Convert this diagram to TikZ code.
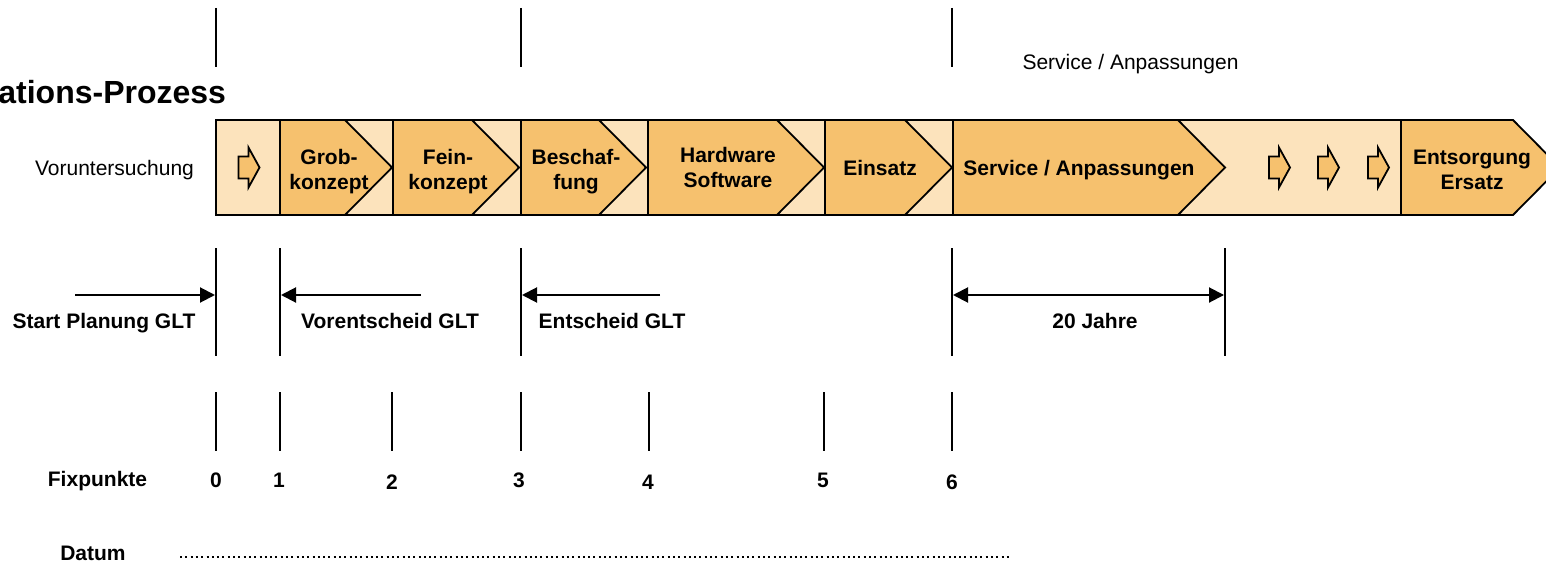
\documentclass[tikz,border=0pt]{standalone}
\usepackage{fontspec}
\setmainfont{Liberation Sans}
\usetikzlibrary{arrows.meta}
\definecolor{bandlight}{HTML}{FCE3BC}
\definecolor{banddark}{HTML}{F6C16E}
\newcommand\mychev[3]{\path[chev] (#1,120) -- (#2,120) -- (#3,167.5) -- (#2,215) -- (#1,215) -- cycle;}
\begin{document}
\begin{tikzpicture}[x=1bp,y=-1bp,
  every node/.style={inner sep=0pt, outer sep=0pt},
  nrm/.style={font=\fontsize{21bp}{25bp}\selectfont},
  bld/.style={font=\bfseries\fontsize{21bp}{25bp}\selectfont},
  two/.style={bld, align=center, anchor=center},
  vline/.style={line width=2bp},
  conn/.style={line width=2bp, -{Triangle[length=15bp,width=15bp]}},
  conntwo/.style={line width=2bp, {Triangle[length=15bp,width=15bp]}-{Triangle[length=15bp,width=15bp]}},
  chev/.style={fill=banddark, draw=black, line width=1.8bp},
  band/.style={fill=bandlight, draw=black, line width=1.8bp},
  smallarrow/.pic={\path[chev] (-10,-11) -- (0,-11) -- (0,-20) -- (11,0) -- (0,20) -- (0,11) -- (-10,11) -- cycle;}
]
\useasboundingbox (0,0) rectangle (1546,563);
\clip (0,0) rectangle (1546,563);

% title and top texts
\node[anchor=base east, font=\bfseries\fontsize{32bp}{37bp}\selectfont] (title) at (226,104) {ations-Prozess};
\node[nrm, anchor=base] (vor) at (114.5,175.5) {Voruntersuchung};
\node[nrm, anchor=base] (svctop) at (1130.5,70) {Service / Anpassungen};

% top vertical lines
\foreach \n/\x in {a/216,b/521,c/952}{
  \coordinate (t\n1) at (\x,8); \coordinate (t\n2) at (\x,67);
  \draw[vline] (t\n1) -- (t\n2);
}

% band
\path[band] (216,120) rectangle (1401,215);
\mychev{280}{345}{392}
\mychev{393}{472}{519}
\mychev{521}{599}{646}
\mychev{648}{777}{824}
\mychev{825}{905}{952}
\mychev{953}{1178}{1225}
\mychev{1401}{1513}{1560}

\pic at (248.5,167.5) {smallarrow};
\pic at (1279,167.5) {smallarrow};
\pic at (1328,167.5) {smallarrow};
\pic at (1378,167.5) {smallarrow};

\node[two] (grob) at (329,172) {Grob-\strut\\konzept\strut};
\node[two] (fein) at (448,172) {Fein-\strut\\konzept\strut};
\node[two] (besch) at (576,172) {Beschaf-\strut\\fung\strut};
\node[two] (hw) at (728,170.5) {Hardware\strut\\Software\strut};
\node[bld, anchor=base] (einsatz) at (880,175.5) {Einsatz};
\node[bld, anchor=base] (svc) at (1079,175.5) {Service / Anpassungen};
\node[two] (ents) at (1472,172) {Entsorgung\strut\\Ersatz\strut};

% middle vertical lines
\foreach \n/\x in {0/216,1/280,3/521,6/952,20/1225}{
  \coordinate (m\n a) at (\x,248); \coordinate (m\n b) at (\x,356);
  \draw[vline] (m\n a) -- (m\n b);
}

% arrows
\coordinate (s1) at (75,295);  \coordinate (s2) at (215,295);
\coordinate (v1) at (421,295); \coordinate (v2) at (281,295);
\coordinate (e1) at (660,295); \coordinate (e2) at (522,295);
\coordinate (j1) at (953,295); \coordinate (j2) at (1224,295);
\draw[conn] (s1) -- (s2);
\draw[conn] (v1) -- (v2);
\draw[conn] (e1) -- (e2);
\draw[conntwo] (j1) -- (j2);

\node[bld, anchor=base] (start) at (104,328.5) {Start Planung GLT};
\node[bld, anchor=base] (vent) at (390,328.5) {Vorentscheid GLT};
\node[bld, anchor=base] (ent) at (612,328.5) {Entscheid GLT};
\node[bld, anchor=base] (jahre) at (1095,328.5) {20 Jahre};

% fixpoint lines
\foreach \n/\x in {0/216,1/280,2/392,3/521,4/649,5/824,6/952}{
  \coordinate (f\n a) at (\x,392); \coordinate (f\n b) at (\x,451);
  \draw[vline] (f\n a) -- (f\n b);
}
\node[bld, anchor=base] (fix) at (97.5,486.5) {Fixpunkte};
\node[bld, anchor=base] (n0) at (216,487) {0};
\node[bld, anchor=base] (n1) at (279,487) {1};
\node[bld, anchor=base] (n2) at (392,489) {2};
\node[bld, anchor=base] (n3) at (519,487) {3};
\node[bld, anchor=base] (n4) at (648,489) {4};
\node[bld, anchor=base] (n5) at (823,487) {5};
\node[bld, anchor=base] (n6) at (952,489) {6};

% Datum
\node[bld, anchor=base] (datum) at (93,560.5) {Datum};
\coordinate (d1) at (180,557); \coordinate (d2) at (1010,557);
\draw[line width=2bp, dash pattern=on 2bp off 3.3bp] (d1) -- (d2);
\end{tikzpicture}
\end{document}
